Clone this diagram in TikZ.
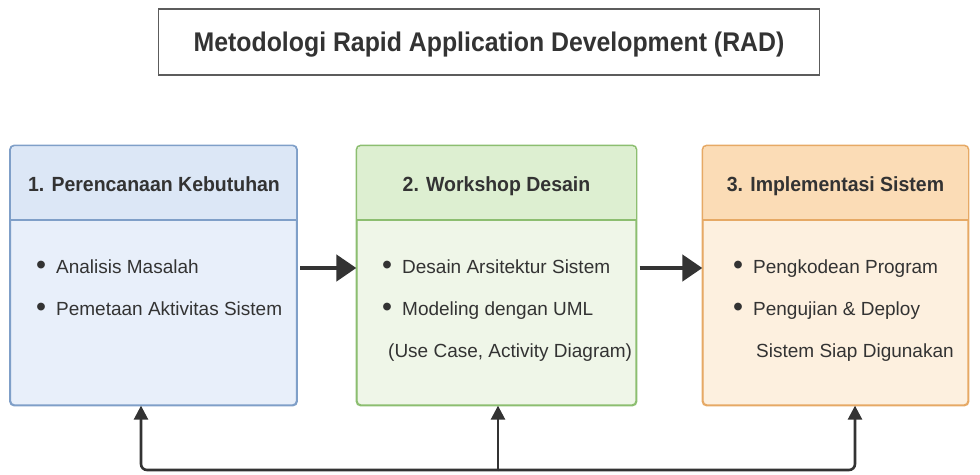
\documentclass[tikz,border=0pt]{standalone}
\usepackage{fontspec}
\setmainfont{Liberation Sans}
\newfontfamily\titlefont{Liberation Sans}[FakeStretch=0.92]
\newfontfamily\hdrfont{Liberation Sans}[FakeStretch=0.95]
\newfontfamily\itemfont{Liberation Sans}
\usetikzlibrary{arrows.meta}
\definecolor{ink}{HTML}{333333}
\definecolor{bodyA}{HTML}{E8EFFA}
\definecolor{hdrA}{HTML}{DCE7F6}
\definecolor{edgeA}{HTML}{7F9FC8}
\definecolor{bodyB}{HTML}{EFF6E8}
\definecolor{hdrB}{HTML}{DDEFD1}
\definecolor{edgeB}{HTML}{8CBE70}
\definecolor{bodyC}{HTML}{FDF0DF}
\definecolor{hdrC}{HTML}{FBDCB6}
\definecolor{edgeC}{HTML}{E6A965}
\newcommand{\bul}{\raisebox{-1.8pt}{\scalebox{1.5}{\textbullet}}\hspace{10pt}}
\tikzset{
  phase/.style={rounded corners=4pt, line width=1.3pt, minimum width=#1, minimum height=259pt, inner sep=0pt},
  hdrtext/.style={font=\hdrfont\fontsize{20.5}{22}\selectfont\bfseries, text=ink, text depth=0pt},
  itemtext/.style={font=\itemfont\fontsize{19}{21}\selectfont, text=ink, anchor=base west, inner sep=0pt},
  bigarrow/.style={ink, line width=4.5pt, -{Triangle[length=20pt,width=26pt]}},
  backarrow/.style={ink, line width=2.6pt, -{Triangle[length=14pt,width=14pt]}},
  titlebox/.style={draw=ink!80, line width=1.3pt, fill=white, minimum width=661pt, minimum height=66pt, text depth=0pt, font=\titlefont\fontsize{27}{29}\selectfont\bfseries, text=ink}
}
\begin{document}
\begin{tikzpicture}[x=1pt,y=-1pt]
\useasboundingbox (0,0) rectangle (980,474);
\node[titlebox] (title) at (489,42) {Metodologi Rapid Application Development (RAD)};

% Box 1
\node[phase=286pt, draw=edgeA, fill=bodyA] (b1) at (153.5,275.5) {};
\fill[hdrA] (11,220) [rounded corners=4pt] -- (11,146) -- (296,146) [sharp corners] -- (296,220) -- cycle;
\draw[edgeA, line width=1.3pt] (11,220) -- (296,220);
\draw[edgeA, line width=1.3pt, rounded corners=4pt] (b1.north west) rectangle (b1.south east);
\node[hdrtext] (h1) at (154,184) {1. Perencanaan Kebutuhan};
\node[itemtext] (i11) at (36,273) {\bul Analisis Masalah};
\node[itemtext] (i12) at (36,315) {\bul Pemetaan Aktivitas Sistem};

% Box 2
\node[phase=279pt, draw=edgeB, fill=bodyB] (b2) at (496.5,275.5) {};
\fill[hdrB] (357,220) [rounded corners=4pt] -- (357,146) -- (636,146) [sharp corners] -- (636,220) -- cycle;
\draw[edgeB, line width=1.3pt] (357,220) -- (636,220);
\draw[edgeB, line width=1.3pt, rounded corners=4pt] (b2.north west) rectangle (b2.south east);
\node[hdrtext] (h2) at (496.5,184) {2. Workshop Desain};
\node[itemtext] (i21) at (382,273) {\bul Desain Arsitektur Sistem};
\node[itemtext] (i22) at (382,315) {\bul Modeling dengan UML};
\node[itemtext] (i23) at (388,357) {(Use Case, Activity Diagram)};

% Box 3
\node[phase=265pt, draw=edgeC, fill=bodyC] (b3) at (835.5,275.5) {};
\fill[hdrC] (703,220) [rounded corners=4pt] -- (703,146) -- (968,146) [sharp corners] -- (968,220) -- cycle;
\draw[edgeC, line width=1.3pt] (703,220) -- (968,220);
\draw[edgeC, line width=1.3pt, rounded corners=4pt] (b3.north west) rectangle (b3.south east);
\node[hdrtext] (h3) at (835.5,184) {3. Implementasi Sistem};
\node[itemtext] (i31) at (733,273) {\bul Pengkodean Program};
\node[itemtext] (i32) at (733,315) {\bul Pengujian \& Deploy};
\node[itemtext] (i33) at (756,357) {Sistem Siap Digunakan};

% forward arrows
\draw[bigarrow] ([xshift=3pt]b1.east |- 0,268) -- (b2.west |- 0,268);
\draw[bigarrow] ([xshift=3pt]b2.east |- 0,268) -- (b3.west |- 0,268);

% feedback arrows
\coordinate (j1) at (141,470);
\coordinate (j2) at (498,470);
\coordinate (j3) at (855,470);
\draw[backarrow, rounded corners=6pt] (j2) -- (j1) -- (j1 |- b1.south);
\draw[backarrow, rounded corners=6pt] (j2) -- (j3) -- (j3 |- b3.south);
\draw[backarrow] (j2) -- (j2 |- b2.south);
\end{tikzpicture}
\end{document}
